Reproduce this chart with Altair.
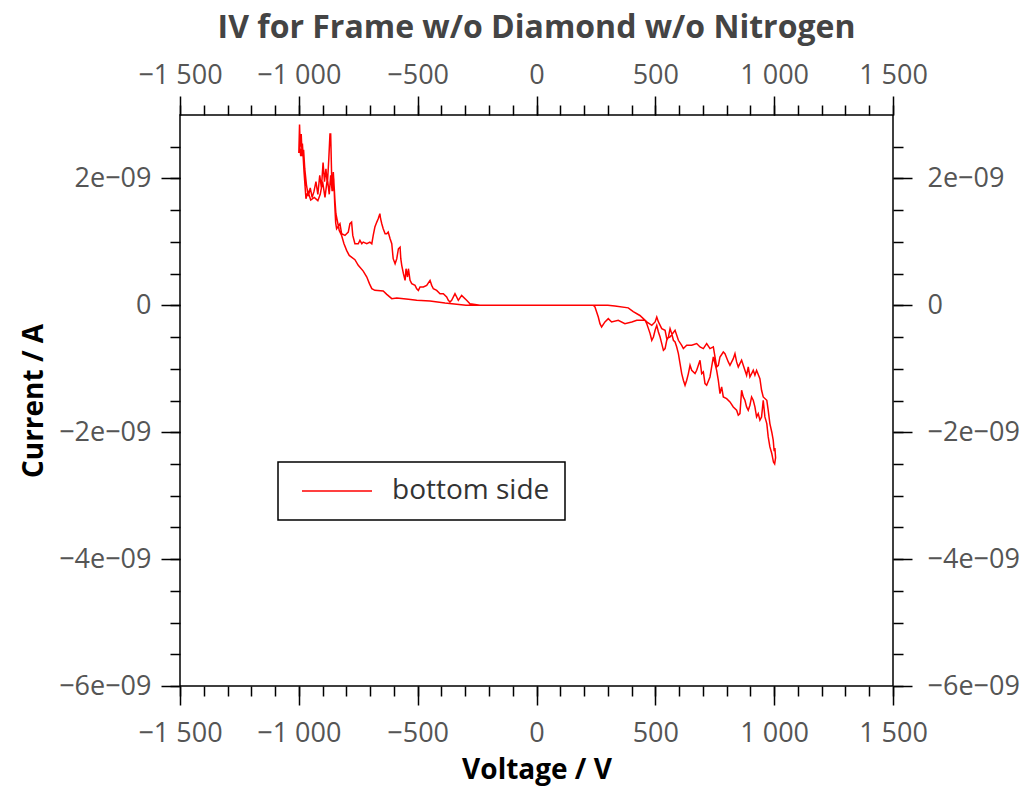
import altair as alt
import pandas as pd

# ---- data (Voltage in V, current in nA) ----
# negative side, outgoing (smooth lower) branch
neg_out_v = [-238, -297, -385, -448, -504, -539, -588, -609, -630, -645, -680, -693, -703, -714,
             -729, -750, -764, -788, -799, -810, -820, -830, -844, -848]
neg_out_i = [0, 0, 0.036, 0.068, 0.079, 0.094, 0.115, 0.105, 0.173, 0.225, 0.236, 0.263, 0.342, 0.446,
             0.540, 0.630, 0.720, 0.787, 0.866, 0.972, 1.102, 1.181, 1.444, 1.654]
# noisy region around -1000 V
neg_tip_v = [-855, -860, -866, -872, -880, -890, -900, -910, -920, -935, -950, -962, -970, -978, -985,
             -992, -998, -1000, -997, -994, -990, -986, -980, -975, -968, -960, -952, -944, -936, -928,
             -920, -912, -905, -898, -892, -886, -880, -874, -869, -866, -862, -858, -853, -849, -845]
neg_tip_i = [2.10, 1.80, 2.05, 1.75, 2.0, 1.70, 1.95, 1.75, 1.65, 1.70, 1.66, 1.80, 1.68, 2.10, 2.55,
             2.35, 2.60, 2.40, 2.85, 2.50, 2.70, 2.35, 2.45, 2.15, 1.90, 1.72, 1.85, 1.70, 1.80, 1.95,
             1.75, 2.05, 1.85, 2.25, 1.95, 2.15, 1.90, 2.30, 2.70, 2.70, 2.05, 1.80, 2.00, 1.60, 1.30]
# negative side, return (noisy upper) branch
neg_back_v = [-841, -827, -820, -806, -792, -785, -778, -773, -764, -750, -743, -735, -729, -714, -701,
              -693, -687, -680, -672, -666, -659, -656, -651, -645, -637, -630, -624, -616, -609, -603,
              -595, -588, -581, -574, -571, -567, -560, -553, -549, -543, -539, -532, -525, -511, -504,
              -497, -490, -476, -462, -448, -441, -434, -420, -406, -392, -378, -371, -364, -357, -343,
              -329, -315, -294, -280, -238]
neg_back_i = [1.207, 1.286, 1.129, 1.102, 1.155, 1.286, 1.312, 1.102, 0.971, 0.971, 1.024, 0.971, 0.997, 0.971, 0.997,
              0.971, 1.102, 1.234, 1.312, 1.365, 1.444, 1.365, 1.286, 1.207, 1.129, 1.129, 1.155, 1.050, 0.971, 0.735,
              0.656, 0.735, 0.892, 0.918, 0.735, 0.630, 0.499, 0.394, 0.577, 0.446, 0.577, 0.394, 0.341, 0.315, 0.262,
              0.236, 0.289, 0.289, 0.315, 0.394, 0.315, 0.262, 0.236, 0.184, 0.184, 0.131, 0.079, 0.052, 0.079, 0.184,
              0.079, 0.157, 0.079, 0.026, 0]
# positive side, outgoing (upper) branch
pos_out_v = [300, 330, 386, 407, 435, 464, 485, 499, 506, 513, 527, 541, 548, 562, 583, 597, 611, 618, 632,
             653, 674, 688, 702, 716, 730, 744, 751, 758, 765, 772, 786, 793, 807, 814, 828, 835, 842, 849,
             863, 877, 884, 891, 898, 912, 919, 926, 940, 947, 954, 969, 975, 982, 990, 996, 1000]
pos_out_i = [0, -0.01, -0.04, -0.10, -0.16, -0.26, -0.315, -0.262, -0.184, -0.262, -0.367, -0.394, -0.525,
             -0.499, -0.394, -0.551, -0.630, -0.682, -0.630, -0.630, -0.603, -0.656, -0.682, -0.603, -0.682,
             -0.656, -0.814, -0.971, -0.945, -0.814, -0.735, -0.761, -0.892, -0.945, -0.840, -0.761, -0.892,
             -0.971, -0.866, -1.024, -1.102, -0.971, -1.129, -1.024, -1.102, -1.024, -1.155, -1.339, -1.444,
             -1.496, -1.654, -1.864, -2.00, -2.126, -2.30]
# tip near +1000 V
pos_tip_v = [1003, 1006, 1002, 997]
pos_tip_i = [-2.25, -2.40, -2.50, -2.47]
# positive side, return (noisy lower) branch
pos_back_v = [990, 982, 975, 969, 961, 954, 947, 940, 933, 926, 919, 912, 905, 898, 891, 884, 877, 870,
              863, 856, 849, 842, 828, 814, 800, 786, 779, 772, 765, 758, 744, 737, 730, 716, 709, 702,
              695, 688, 674, 667, 653, 646, 639, 632, 625, 618, 611, 604, 597, 590, 583, 576, 569, 562,
              555, 548, 541, 534, 527, 520, 513, 506, 499, 492, 485, 478, 471, 464, 457, 443, 422, 401,
              372, 344, 316, 302, 288, 274, 267, 260, 253, 246, 239]
pos_back_i = [-2.336, -2.231, -2.074, -1.864, -1.759, -1.496, -1.759, -1.811, -1.706, -1.759, -1.601, -1.496,
              -1.444, -1.575, -1.654, -1.601, -1.496, -1.444, -1.339, -1.706, -1.732, -1.654, -1.601, -1.522,
              -1.470, -1.444, -1.286, -1.391, -1.181, -1.024, -0.814, -0.971, -1.129, -1.260, -1.234, -1.050,
              -1.076, -0.866, -1.024, -1.076, -1.024, -0.945, -1.076, -1.181, -1.260, -1.181, -1.076, -0.918,
              -0.761, -0.656, -0.577, -0.551, -0.446, -0.367, -0.499, -0.551, -0.682, -0.709, -0.603, -0.499,
              -0.420, -0.315, -0.394, -0.499, -0.551, -0.446, -0.367, -0.289, -0.236, -0.236, -0.236, -0.262,
              -0.289, -0.236, -0.262, -0.210, -0.262, -0.341, -0.289, -0.184, -0.105, -0.026, 0]

series_name = "bottom side"
x_major = [-1500, -1000, -500, 0, 500, 1000, 1500]
x_minor = list(range(-1500, 1501, 100))
y_major = [-6e-9, -4e-9, -2e-9, 0, 2e-9]
y_minor = [k * 0.5e-9 for k in range(-12, 7)]

segments = [(neg_out_v, neg_out_i), (neg_tip_v, neg_tip_i), (neg_back_v, neg_back_i),
            (pos_out_v, pos_out_i), (pos_tip_v, pos_tip_i), (pos_back_v, pos_back_i)]
V, I = [], []
for sv, si in segments:
    V += sv
    I += si
df = pd.DataFrame({"V": V, "I": [v * 1e-9 for v in I], "idx": list(range(len(V))),
                   "series": [series_name] * len(V)})

FONT = "Open Sans"
LABEL_COLOR = "#555555"
x_scale = alt.Scale(domain=[-1500, 1500], nice=False, zero=False)
y_scale = alt.Scale(domain=[-6e-9, 3e-9], nice=False, zero=False)

x_label_expr = "replace(format(datum.value, ','), ',', ' ')"
y_label_expr = "datum.value == 0 ? '0' : format(round(datum.value * 1e9), 'd') + 'e\u221209'"

tick_style = dict(grid=False, domain=False, tickColor="black", tickWidth=1.5)
label_style = dict(labelFont=FONT, labelFontSize=27, labelColor=LABEL_COLOR)
title_style = dict(titleFont=FONT, titleFontSize=28, titleFontWeight="bold", titleColor="black")

ax_bottom = alt.Axis(orient="bottom", values=x_major, tickSize=19, labelExpr=x_label_expr,
                     labelFlush=False, labelPadding=15, titlePadding=10,
                     **tick_style, **label_style, **title_style)
ax_top = alt.Axis(orient="top", values=x_major, tickSize=19, labelExpr=x_label_expr,
                  labelFlush=False, labelPadding=7, **tick_style, **label_style)
ax_left = alt.Axis(orient="left", values=y_major, tickSize=19, labelExpr=y_label_expr,
                   labelPadding=10, titlePadding=10, **tick_style, **label_style, **title_style)
ax_right = alt.Axis(orient="right", values=y_major, tickSize=19, labelExpr=y_label_expr,
                    labelPadding=15, **tick_style, **label_style)

minor_bottom = alt.Axis(orient="bottom", values=x_minor, tickSize=10, labels=False, **tick_style)
minor_top = alt.Axis(orient="top", values=x_minor, tickSize=10, labels=False, **tick_style)
minor_left = alt.Axis(orient="left", values=y_minor, tickSize=10, labels=False, **tick_style)
minor_right = alt.Axis(orient="right", values=y_minor, tickSize=10, labels=False, **tick_style)

base = alt.Chart(df)

legend = alt.Legend(title=None, orient="none", legendX=98, legendY=347, symbolType="stroke",
                    symbolSize=4900, symbolStrokeWidth=1.5, clipHeight=28, symbolOffset=8,
                    labelFont=FONT, labelFontSize=28, labelColor="#333333", labelOffset=19,
                    padding=15, strokeColor="black", fillColor="white", cornerRadius=0)

main = base.mark_line(strokeWidth=1.5).encode(
    x=alt.X("V:Q", scale=x_scale, axis=ax_bottom, title="Voltage / V"),
    y=alt.Y("I:Q", scale=y_scale, axis=ax_left, title="Current / A"),
    order=alt.Order("idx:Q"),
    color=alt.Color("series:N", scale=alt.Scale(range=["#ff0000"]), legend=legend),
)

top_right = base.mark_line(opacity=0).encode(
    x=alt.X("V:Q", scale=x_scale, axis=ax_top, title=None),
    y=alt.Y("I:Q", scale=y_scale, axis=ax_right, title=None),
    order=alt.Order("idx:Q"),
)
minor_bl = base.mark_line(opacity=0).encode(
    x=alt.X("V:Q", scale=x_scale, axis=minor_bottom, title=None),
    y=alt.Y("I:Q", scale=y_scale, axis=minor_left, title=None),
    order=alt.Order("idx:Q"),
)
minor_tr = base.mark_line(opacity=0).encode(
    x=alt.X("V:Q", scale=x_scale, axis=minor_top, title=None),
    y=alt.Y("I:Q", scale=y_scale, axis=minor_right, title=None),
    order=alt.Order("idx:Q"),
)

chart = alt.layer(main, top_right, minor_bl, minor_tr).resolve_axis(
    x="independent", y="independent"
).properties(
    width=713, height=571,
    title=alt.TitleParams(text="IV for Frame w/o Diamond w/o Nitrogen", font=FONT, fontSize=32,
                          fontWeight="bold", color="#444444", anchor="middle", offset=16),
    autosize=alt.AutoSizeParams(type="none"),
    padding={"left": 172, "top": 107, "right": 133, "bottom": 100},
    background="white",
).configure_view(stroke="black", strokeWidth=1.5).configure_legend(strokeWidth=1.5)

chart.save("out.html", embed_options={"renderer": "svg", "actions": False})
